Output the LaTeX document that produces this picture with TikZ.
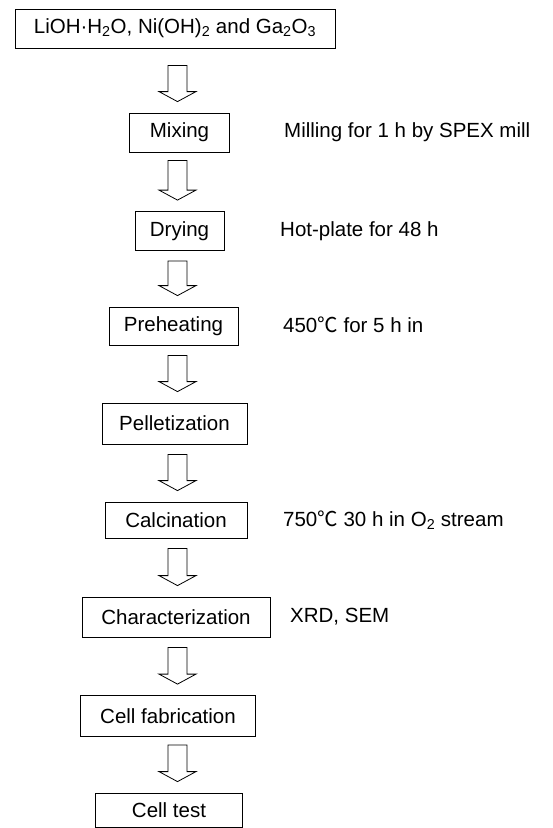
\documentclass[tikz,border=0pt]{standalone}
\usepackage{fontspec}
\setmainfont{Liberation Sans}
\newfontfamily\cjk{Noto Sans CJK SC}
\usetikzlibrary{calc}
\newcommand{\degc}{{\cjk ℃}}
% hollow block arrow from the bottom of one box to the top of the next
\newcommand{\flowarrow}[3][10pt]{%
  \draw[hollow] let \p1=(#2.south), \p2=(#3.north) in
    (168pt,\y1-#1) -- (187pt,\y1-#1) -- (187pt,\y2+21pt) -- (196pt,\y2+21pt)
    -- (177.5pt,\y2+11pt) -- (159pt,\y2+21pt) -- (168pt,\y2+21pt) -- cycle;}

\begin{document}
\begin{tikzpicture}[x=1pt,y=-1pt,
    box/.style={draw,line width=0.8pt,inner sep=0pt,minimum height=39pt,
      font=\fontsize{20.5}{24}\selectfont},
    note/.style={anchor=west,inner sep=0pt,font=\fontsize{20.5}{24}\selectfont},
    hollow/.style={draw,line width=0.8pt,line join=miter}]
  \useasboundingbox (0,0) rectangle (553,828);
  \node[box,minimum width=320pt] (src) at (175,28.5)
    {LiOH·H\textsubscript{2}O, Ni(OH)\textsubscript{2} and Ga\textsubscript{2}O\textsubscript{3}};
  \node[box,minimum width=100pt] (mix) at (179.5,132.5) {Mixing};
  \node[box,minimum width=89pt] (dry) at (179.5,231) {Drying};
  \node[box,minimum width=129pt,minimum height=38pt] (pre) at (173.5,326) {Preheating};
  \node[box,minimum width=145pt,minimum height=41pt] (pel) at (174.5,423.5) {Pelletization};
  \node[box,minimum width=142pt,minimum height=36pt] (cal) at (176,520) {Calcination};
  \node[box,minimum width=188pt,minimum height=40pt] (chr) at (176,617) {Characterization};
  \node[box,minimum width=175pt,minimum height=41pt] (fab) at (168,716) {Cell fabrication};
  \node[box,minimum width=147pt,minimum height=34pt] (tst) at (169,810) {Cell test};
  % conditions
  \node[note] (mixnote) at (284,132.5) {Milling for 1 h by SPEX mill};
  \node[note] (drynote) at (280,231) {Hot-plate for 48 h};
  \node[note] (prenote) at (283,325) {450\degc\ for 5 h in};
  \node[note] (calnote) at (283,520) {750\degc\ 30 h in O\textsubscript{2} stream};
  \node[note] (chrnote) at (290,617) {XRD, SEM};
  % arrows
  \flowarrow[17pt]{src}{mix}
  \flowarrow[8pt]{mix}{dry}
  \flowarrow{dry}{pre}
  \flowarrow{pre}{pel}
  \flowarrow{pel}{cal}
  \flowarrow{cal}{chr}
  \flowarrow{chr}{fab}
  \flowarrow[8pt]{fab}{tst}
\end{tikzpicture}
\end{document}
